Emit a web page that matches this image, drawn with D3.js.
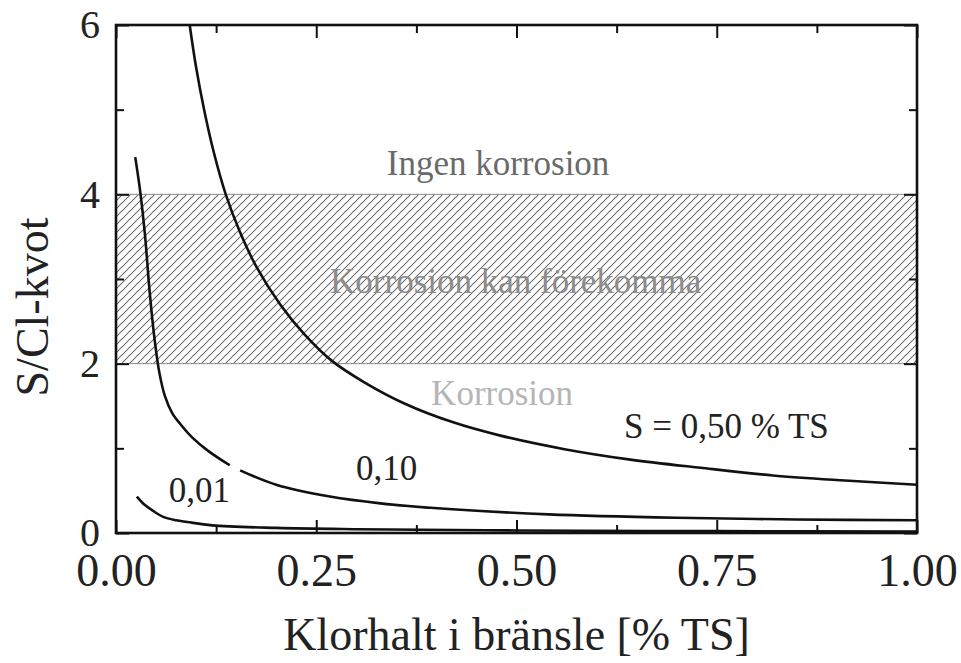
<!DOCTYPE html>
<html>
<head>
<meta charset="utf-8">
<script src="https://cdn.jsdelivr.net/npm/d3@7"></script>
<style>
  html, body { margin: 0; padding: 0; background: #fff; }
  svg { display: block; font-family: "Liberation Serif", "Times New Roman", serif; }
</style>
</head>
<body>
<div id="chart"></div>
<script>
// Values: [chlorine % TS, S/Cl ratio]; null = break in the line
const curveS050 = [
  [0.092, 6.0], [0.100, 5.5], [0.110, 5.0], [0.122, 4.5], [0.137, 4.0], [0.155, 3.55],
  [0.175, 3.15], [0.205, 2.7], [0.235, 2.35], [0.27, 2.03], [0.31, 1.78], [0.36, 1.53],
  [0.42, 1.31], [0.48, 1.15], [0.56, 0.99], [0.64, 0.87], [0.73, 0.77], [0.82, 0.68],
  [0.91, 0.62], [1.0, 0.57]
];
const curveS010 = [
  [0.024, 4.44], [0.030, 4.05], [0.036, 3.54], [0.042, 2.85], [0.048, 2.3], [0.054, 1.9],
  [0.061, 1.62], [0.07, 1.42], [0.08, 1.29], [0.095, 1.13], [0.115, 0.97], [0.142, 0.80], null,
  [0.155, 0.74], [0.2, 0.57], [0.267, 0.43], [0.33, 0.35], [0.42, 0.28], [0.54, 0.22],
  [0.7, 0.18], [0.85, 0.16], [1.0, 0.15]
];
const curveS001 = [
  [0.026, 0.43], [0.035, 0.34], [0.045, 0.27], [0.059, 0.19], [0.075, 0.15], [0.089, 0.13],
  [0.12, 0.09], [0.2, 0.06], [0.3, 0.045], [0.5, 0.03], [0.75, 0.022], [1.0, 0.018]
];

// zones (S/Cl limits)
const bandLimits = [2, 4];

// tick values
const xTicks = [0, 0.25, 0.5, 0.75, 1.0];
const xMinorTicks = [0.125, 0.375, 0.625, 0.875];
const yTicks = [0, 2, 4, 6];
const yMinorTicks = [1, 3, 5];

// text annotations placed in data units
const zoneLabels = [
  { text: "Ingen korrosion", x: 0.477, y: 4.23, color: "#6a6a6a" },
  { text: "Korrosion kan förekomma", x: 0.499, y: 2.83, color: "#8c8c8c" },
  { text: "Korrosion", x: 0.482, y: 1.51, color: "#b5b5b5" }
];
const curveLabels = [
  { text: "S = 0,50 % TS", x: 0.762, y: 1.12 },
  { text: "0,10", x: 0.338, y: 0.63 },
  { text: "0,01", x: 0.104, y: 0.37 }
];

const width = 961, height = 663;
const margin = { top: 25, right: 44, bottom: 130, left: 116 };
const innerW = width - margin.left - margin.right;
const innerH = height - margin.top - margin.bottom;

const svg = d3.select("#chart")
  .append("svg")
  .attr("width", width)
  .attr("height", height);

const defs = svg.append("defs");
const pattern = defs.append("pattern")
  .attr("id", "hatch")
  .attr("patternUnits", "userSpaceOnUse")
  .attr("width", 8)
  .attr("height", 8);
pattern.append("path")
  .attr("d", "M-2,2 L2,-2 M0,8 L8,0 M6,10 L10,6")
  .style("stroke", "#6f6f6f")
  .style("stroke-width", 1.1);

const g = svg.append("g")
  .attr("transform", `translate(${margin.left},${margin.top})`);

const x = d3.scaleLinear().domain([0, 1]).range([0, innerW]);
const y = d3.scaleLinear().domain([0, 6]).range([innerH, 0]);

// hatched zone
g.append("rect")
  .attr("x", x(0))
  .attr("y", y(bandLimits[1]))
  .attr("width", x(1) - x(0))
  .attr("height", y(bandLimits[0]) - y(bandLimits[1]))
  .style("fill", "url(#hatch)");

g.selectAll(".band-edge")
  .data(bandLimits)
  .join("line")
  .attr("class", "band-edge")
  .attr("x1", x(0))
  .attr("x2", x(1))
  .attr("y1", d => y(d))
  .attr("y2", d => y(d))
  .style("stroke", "#888")
  .style("stroke-width", 1);

// zone labels
g.selectAll(".zone-label")
  .data(zoneLabels)
  .join("text")
  .attr("class", "zone-label")
  .attr("x", d => x(d.x))
  .attr("y", d => y(d.y))
  .attr("text-anchor", "middle")
  .style("font-size", "35px")
  .style("fill", d => d.color)
  .text(d => d.text);

// curves
const line = d3.line()
  .defined(d => d != null)
  .x(d => x(d[0]))
  .y(d => y(d[1]))
  .curve(d3.curveCatmullRom.alpha(0.5));

g.selectAll(".curve")
  .data([curveS050, curveS010, curveS001])
  .join("path")
  .attr("class", "curve")
  .attr("d", line)
  .style("fill", "none")
  .style("stroke", "#111")
  .style("stroke-width", 2.6);

g.selectAll(".curve-label")
  .data(curveLabels)
  .join("text")
  .attr("class", "curve-label")
  .attr("x", d => x(d.x))
  .attr("y", d => y(d.y))
  .attr("text-anchor", "middle")
  .style("font-size", "35px")
  .style("fill", "#222")
  .text(d => d.text);

// axes, ticks pointing inward on all four sides
function styleAxis(sel) {
  sel.select(".domain").remove();
  sel.selectAll(".tick line").style("stroke", "#111").style("stroke-width", 2);
}

g.append("g")
  .attr("transform", `translate(0,${innerH})`)
  .call(d3.axisBottom(x).tickValues(xTicks).tickSize(-13).tickPadding(20)
    .tickFormat(d3.format(".2f")))
  .call(styleAxis)
  .call(a => a.selectAll("text")
    .style("font-family", "Liberation Serif")
    .style("font-size", "46px")
    .style("fill", "#222"));

g.append("g")
  .attr("transform", `translate(0,${innerH})`)
  .call(d3.axisBottom(x).tickValues(xMinorTicks).tickSize(-8).tickFormat(""))
  .call(styleAxis);

g.append("g")
  .call(d3.axisTop(x).tickValues(xTicks).tickSize(-13).tickFormat(""))
  .call(styleAxis);
g.append("g")
  .call(d3.axisTop(x).tickValues(xMinorTicks).tickSize(-8).tickFormat(""))
  .call(styleAxis);

g.append("g")
  .call(d3.axisLeft(y).tickValues(yTicks).tickSize(-13).tickPadding(16)
    .tickFormat(d3.format("d")))
  .call(styleAxis)
  .call(a => a.selectAll("text")
    .style("font-family", "Liberation Serif")
    .style("font-size", "40px")
    .style("fill", "#222"));
g.append("g")
  .call(d3.axisLeft(y).tickValues(yMinorTicks).tickSize(-8).tickFormat(""))
  .call(styleAxis);

g.append("g")
  .attr("transform", `translate(${innerW},0)`)
  .call(d3.axisRight(y).tickValues(yTicks).tickSize(-13).tickFormat(""))
  .call(styleAxis);
g.append("g")
  .attr("transform", `translate(${innerW},0)`)
  .call(d3.axisRight(y).tickValues(yMinorTicks).tickSize(-8).tickFormat(""))
  .call(styleAxis);

// frame
g.append("rect")
  .attr("width", innerW)
  .attr("height", innerH)
  .style("fill", "none")
  .style("stroke", "#111")
  .style("stroke-width", 2.6);

// axis titles
svg.append("text")
  .attr("x", margin.left + innerW / 2)
  .attr("y", 650)
  .attr("text-anchor", "middle")
  .style("font-size", "46px")
  .style("fill", "#222")
  .text("Klorhalt i bränsle [% TS]");

svg.append("text")
  .attr("transform", "translate(48,307) rotate(-90)")
  .attr("text-anchor", "middle")
  .style("font-size", "46px")
  .style("fill", "#222")
  .text("S/Cl-kvot");
</script>
</body>
</html>
